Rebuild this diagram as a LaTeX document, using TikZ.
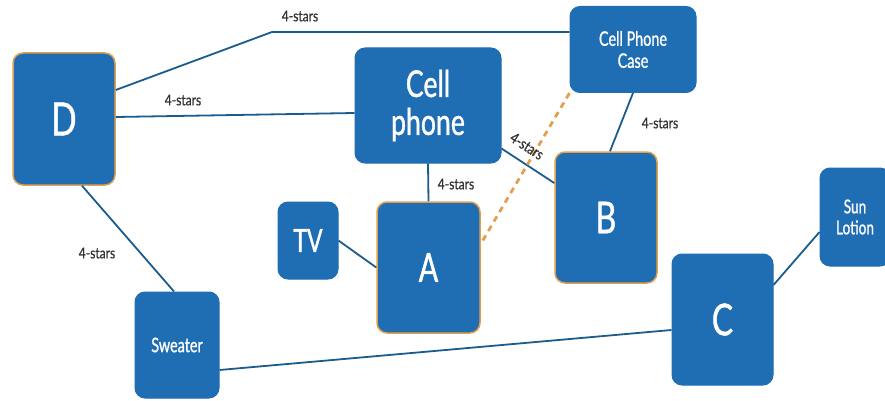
\documentclass[tikz,border=0pt]{standalone}
\usepackage{fontspec}
\setmainfont{Lato}
\newfontfamily\narrowfont[FakeStretch=0.72,FakeBold=1]{Lato}
\newfontfamily\labelfont[FakeStretch=0.8,FakeBold=0.8]{Lato}
\definecolor{boxblue}{HTML}{1F6DB3}
\definecolor{linkblue}{HTML}{1B5C8E}
\definecolor{edgeorange}{HTML}{E2A04E}
\definecolor{labelgray}{HTML}{333333}
\begin{document}
\begin{tikzpicture}[x=1pt,y=-1pt,
  item/.style={rectangle, rounded corners=10pt, fill=boxblue, draw=boxblue, line width=1pt,
    text=white, align=center, inner sep=0pt, font=\narrowfont},
  hot/.style={draw=edgeorange, line width=1.5pt},
  link/.style={draw=linkblue, line width=1.8pt},
  dashlink/.style={draw=edgeorange, line width=2.8pt, dash pattern=on 6pt off 5pt},
  lbl/.style={text=labelgray, font=\labelfont\fontsize{15}{15}\selectfont, inner sep=0pt}
]
\useasboundingbox (0,0) rectangle (885,401);
% nodes
\node[item,hot, minimum width=102pt, minimum height=132pt, font=\narrowfont\fontsize{46}{46}\selectfont] (D) at (64,119) {D};
\node[item, minimum width=146pt, minimum height=115pt, font=\narrowfont\fontsize{37}{38}\selectfont] (Cell) at (428,105.5) {Cell\\phone};
\node[item, minimum width=126pt, minimum height=86pt, font=\narrowfont\fontsize{20}{22}\selectfont] (Case) at (633,49.5) {Cell Phone\\Case};
\node[item,hot, minimum width=102pt, minimum height=131pt, font=\narrowfont\fontsize{44}{44}\selectfont] (B) at (606,217.5) {B};
\node[item, minimum width=70pt, minimum height=98pt, font=\narrowfont\fontsize{19}{21}\selectfont] (Sun) at (855,217) {Sun\\Lotion};
\node[item, minimum width=101pt, minimum height=131pt, font=\narrowfont\fontsize{44}{44}\selectfont] (C) at (722.5,319.5) {C};
\node[item,hot, minimum width=103pt, minimum height=131pt, font=\narrowfont\fontsize{40}{40}\selectfont] (A) at (428.5,267.5) {A};
\node[item, minimum width=60pt, minimum height=77pt, font=\narrowfont\fontsize{32}{32}\selectfont] (TV) at (308,240.5) {TV};
\node[item, minimum width=84pt, minimum height=106pt, font=\narrowfont\fontsize{20}{20}\selectfont] (Sweater) at (177,345) {Sweater};
% connectors
\coordinate (bend) at (272,32);
\draw[link] ([yshift=29pt]D.east) -- (bend) -- (bend -| Case.west);
\draw[link] ([yshift=2pt]D.east) -- ([yshift=-7.5pt]Cell.west);
\draw[link] (Cell.south) -- (A.north);
\draw[link] ([yshift=15pt]Cell.south east) -- ([yshift=34.5pt]B.west);
\draw[link] (Case.south) -- ([xshift=4pt]B.north);
\draw[dashlink] ([yshift=27pt,xshift=2pt]A.east) -- (Case.south west);
\draw[link] (TV.east) -- (A.west);
\draw[link] ([xshift=18pt]D.south) -- ([xshift=-3pt]Sweater.north);
\draw[link] ([yshift=-25pt]Sweater.east) -- ([yshift=-10.5pt]C.west);
\draw[link] ([yshift=34.5pt]C.east) -- ([yshift=-15pt]Sun.west);
% labels
\node[lbl] (l1) at (300,16) {4-stars};
\node[lbl] (l2) at (183,100) {4-stars};
\node[lbl] (l3) at (456,184) {4-stars};
\node[lbl, rotate=-33] (l4) at (527,146) {4-stars};
\node[lbl] (l5) at (660,123) {4-stars};
\node[lbl] (l6) at (97,253) {4-stars};
\end{tikzpicture}
\end{document}
